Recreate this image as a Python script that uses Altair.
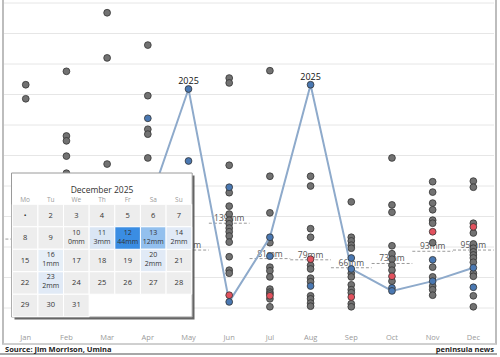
import altair as alt
import pandas as pd

months = ["Jan", "Feb", "Mar", "Apr", "May", "Jun", "Jul", "Aug", "Sep", "Oct", "Nov", "Dec"]

# monthly rainfall (mm) of earlier years, per month (grey dots)
gray_jan = [366, 343, 205, 170, 150, 128, 112, 96, 84, 72, 60, 48, 35, 22]
gray_feb = [388, 282, 274, 249, 221, 190, 160, 140, 118, 100, 85, 70, 55, 40, 28]
gray_mar = [484, 410, 236, 200, 175, 150, 132, 115, 100, 86, 72, 58, 44, 30]
gray_apr = [431, 348, 293, 285, 246, 205, 180, 140, 120, 100, 82, 66, 50, 36, 22]
gray_may = [190, 150, 120, 100, 85, 70, 58, 46, 35, 25, 15]
gray_jun = [377, 369, 234, 189, 167, 154, 144, 138, 131, 125, 118, 108, 84, 62, 57]
gray_jul = [389, 216, 156, 107, 67, 61, 51, 31, 26, 23, 15, 2]
gray_aug = [216, 200, 130, 116, 70, 64, 49, 43, 20, 15, 8, 3]
gray_sep = [174, 116, 110, 103, 98, 57, 51, 38, 30, 25, 7, 2]
gray_oct = [246, 169, 157, 102, 89, 80, 70, 62, 44]
gray_nov = [207, 190, 172, 161, 144, 139, 107, 67, 51, 36, 30, 21]
gray_dec = [208, 198, 139, 123, 105, 98, 92, 87, 82, 75, 57, 52, 20, 2]
gray_by_month = [gray_jan, gray_feb, gray_mar, gray_apr, gray_may, gray_jun,
                 gray_jul, gray_aug, gray_sep, gray_oct, gray_nov, gray_dec]

blue_year = [88, 150, 105, 311, 241, 198, 85, 36, 82, 33, 79, 34]
red_year = [40, 65, 75, 90, 60, 21, 20, 80, 18, 52, 125, 133]
year_2025 = [58, 95, 120, 165, 359, 10, 116, 366, 64, 28, 44, 66]
avg_mm = [113, 125, 130, 140, 95, 139, 81, 79, 66, 73, 93, 95]
# average labels of Jan-Apr sit under the calendar inset and are not shown
avg_label_months = ["May", "Jun", "Jul", "Aug", "Sep", "Oct", "Nov", "Dec"]
grid_mm = [0, 50, 100, 150, 200, 250, 300, 350, 400, 450, 500]

# December 2025 calendar
cal_weekdays = ["Mo", "Tu", "We", "Th", "Fr", "Sa", "Su"]
cal_days = list(range(1, 32))
cal_rain_days = [10, 11, 12, 13, 14, 16, 20, 23]
cal_rain_mm = [0, 3, 44, 12, 2, 1, 2, 2]

# ---------------- tables ----------------
pts = []
for i, m in enumerate(months):
    for v in gray_by_month[i]:
        pts.append({"mi": i, "mm": v, "kind": "other"})
    pts.append({"mi": i, "mm": blue_year[i], "kind": "blue"})
    pts.append({"mi": i, "mm": red_year[i], "kind": "red"})
    pts.append({"mi": i, "mm": year_2025[i], "kind": "y2025"})
pts = pd.DataFrame(pts)

line_df = pd.DataFrame({"mi": range(12), "mm": year_2025})
lab_df = pd.DataFrame([
    {"mi": i, "mm": year_2025[i], "t": "2025"}
    for i in range(12)
    if year_2025[i] >= max(gray_by_month[i] + [blue_year[i], red_year[i]])
])
avg_df = pd.DataFrame({"mi": range(12), "month": months, "avg": avg_mm})
avg_df["lo"] = avg_df["mi"] - 0.5
avg_df["hi"] = avg_df["mi"] + 0.5
avg_df["lbl"] = avg_df["avg"].astype(str) + "mm"
avg_lab_df = avg_df[avg_df["month"].isin(avg_label_months)]
month_df = pd.DataFrame({"mi": range(12), "month": months})
grid_df = pd.DataFrame({"g": grid_mm})
one = pd.DataFrame({"a": [0]})

rain = dict(zip(cal_rain_days, cal_rain_mm))
cal = pd.DataFrame({"day": cal_days})
cal["col"] = (cal["day"] - 1) % 7
cal["row"] = (cal["day"] - 1) // 7
cal["lbl"] = cal["day"].astype(str)
cal.loc[cal["day"] == 1, "lbl"] = "\u2022"
cal["mm"] = cal["day"].map(rain).fillna(-1)
cal["mmlbl"] = cal["day"].map(lambda d: f"{rain[d]}mm" if d in rain else "")
wd_df = pd.DataFrame({"col": range(7), "wd": cal_weekdays})

# ---------------- scales ----------------
X = alt.Scale(domain=[-0.5, 11.5], range=[5.4, 493.7])
Y = alt.Scale(domain=[0, 500], range=[308, 3])
CX = alt.Scale(type="band", domain=list(range(7)), range=[12.3, 191.7], paddingInner=0, paddingOuter=0)
CY = alt.Scale(type="band", domain=list(range(5)), range=[204.3, 316.7], paddingInner=0, paddingOuter=0)
FONT = "Open Sans"

grid = alt.Chart(grid_df).mark_rule(color="#e6e6e6", strokeWidth=1).encode(
    y=alt.Y("g:Q", scale=Y, axis=None), x=alt.value(4), x2=alt.value(494))

avg_rule = alt.Chart(avg_df).mark_rule(color="#9a9a9a", strokeWidth=1, strokeDash=[3, 2]).encode(
    x=alt.X("lo:Q", scale=X, axis=None), x2="hi:Q", y=alt.Y("avg:Q", scale=Y, axis=None))
avg_txt = alt.Chart(avg_lab_df).mark_text(fontSize=8.5, color="#555555", dy=-5, font=FONT).encode(
    x=alt.X("mi:Q", scale=X, axis=None), y=alt.Y("avg:Q", scale=Y, axis=None), text="lbl:N")

def dots(kind, color):
    return alt.Chart(pts).transform_filter(alt.datum.kind == kind).mark_circle(
        size=46, color=color, opacity=1, stroke="#333333", strokeWidth=0.8).encode(
        x=alt.X("mi:Q", scale=X, axis=None), y=alt.Y("mm:Q", scale=Y, axis=None))

gray_pts = dots("other", "#727272")
blue_pts = dots("blue", "#4a78b2")
red_pts = dots("red", "#e2525e")
y25_pts = dots("y2025", "#4a78b2")

line = alt.Chart(line_df).mark_line(color="#8eaacb", strokeWidth=2).encode(
    x=alt.X("mi:Q", scale=X, axis=None), y=alt.Y("mm:Q", scale=Y, axis=None))
lab = alt.Chart(lab_df).mark_text(fontSize=9, color="#111111", dy=-8, font=FONT).encode(
    x=alt.X("mi:Q", scale=X, axis=None), y=alt.Y("mm:Q", scale=Y, axis=None), text="t:N")

mon = alt.Chart(month_df).mark_text(fontSize=7.5, color="#9a9a9a", font=FONT).encode(
    x=alt.X("mi:Q", scale=X, axis=None), y=alt.value(338), text="month:N")

frame = alt.Chart(one).mark_rect(fillOpacity=0, stroke="#a8a8a8", strokeWidth=1.5).encode(
    x=alt.value(3), x2=alt.value(496), y=alt.value(-5), y2=alt.value(344))
sep_line = alt.Chart(one).mark_rule(color="#e2e2e2", strokeWidth=1).encode(
    x=alt.value(3), x2=alt.value(496), y=alt.value(344))
bottom_line = alt.Chart(one).mark_rule(color="#8a8a8a", strokeWidth=1.5).encode(
    x=alt.value(0), x2=alt.value(497), y=alt.value(354))
src = alt.Chart(one).mark_text(text="Source: Jim Morrison, Umina", align="left", fontSize=7.5,
                               fontWeight="bold", color="#222222", font=FONT).encode(
    x=alt.value(5), y=alt.value(349.5))
brand = alt.Chart(one).mark_text(text="peninsula news", align="right", fontSize=7.5,
                                 fontWeight="bold", color="#222222", font=FONT).encode(
    x=alt.value(494), y=alt.value(349.5))

# calendar inset
shadow = alt.Chart(one).mark_rect(color="#4a4a4a", opacity=0.85).encode(
    x=alt.value(14.5), x2=alt.value(194.5), y=alt.value(175.5), y2=alt.value(319.5))
box = alt.Chart(one).mark_rect(fill="white", stroke="#9a9a9a", strokeWidth=1).encode(
    x=alt.value(11.5), x2=alt.value(192.2), y=alt.value(173), y2=alt.value(317))
title = alt.Chart(one).mark_text(text="December 2025", fontSize=8.5, color="#333333", font=FONT).encode(
    x=alt.value(102), y=alt.value(189.5))
wd = alt.Chart(wd_df).mark_text(fontSize=6.5, color="#9a9a9a", font=FONT).encode(
    x=alt.X("col:O", scale=CX, axis=None), y=alt.value(199.5), text="wd:N")
cells = alt.Chart(cal).mark_rect(fill="#ededed", stroke="white", strokeWidth=1).encode(
    x=alt.X("col:O", scale=CX, axis=None), y=alt.Y("row:O", scale=CY, axis=None))
rain_cells = alt.Chart(cal).transform_filter(alt.datum.mm > 0).mark_rect(stroke="white", strokeWidth=1).encode(
    x=alt.X("col:O", scale=CX, axis=None), y=alt.Y("row:O", scale=CY, axis=None),
    color=alt.Color("mm:Q", scale=alt.Scale(domain=[0, 3, 12, 44],
                                            range=["#eef3f9", "#dae6f4", "#93c0ee", "#3a8de3"]),
                    legend=None))
day_plain = alt.Chart(cal).transform_filter(alt.datum.mm < 0).mark_text(
    fontSize=7.5, color="#333333", font=FONT).encode(
    x=alt.X("col:O", scale=CX, axis=None), y=alt.Y("row:O", scale=CY, axis=None), text="lbl:N")
day_rain = alt.Chart(cal).transform_filter(alt.datum.mm >= 0).mark_text(
    fontSize=7, color="#333333", font=FONT, dy=-5.5).encode(
    x=alt.X("col:O", scale=CX, axis=None), y=alt.Y("row:O", scale=CY, axis=None), text="lbl:N")
mm_rain = alt.Chart(cal).transform_filter(alt.datum.mm >= 0).mark_text(
    fontSize=7, color="#333333", font=FONT, dy=3.5).encode(
    x=alt.X("col:O", scale=CX, axis=None), y=alt.Y("row:O", scale=CY, axis=None), text="mmlbl:N")

chart = alt.layer(
    grid, avg_rule, avg_txt, gray_pts, line, red_pts, blue_pts, y25_pts, lab, mon,
    frame, sep_line, bottom_line, src, brand,
    shadow, box, title, wd, cells, rain_cells, day_plain, day_rain, mm_rain,
).resolve_scale(x="independent", y="independent", color="independent").properties(
    width=500, height=357, autosize=alt.AutoSizeParams(type="none"), padding=0,
    background="white",
).configure_view(stroke=None)

chart.save("out.html", embed_options={"renderer": "svg", "actions": False})
